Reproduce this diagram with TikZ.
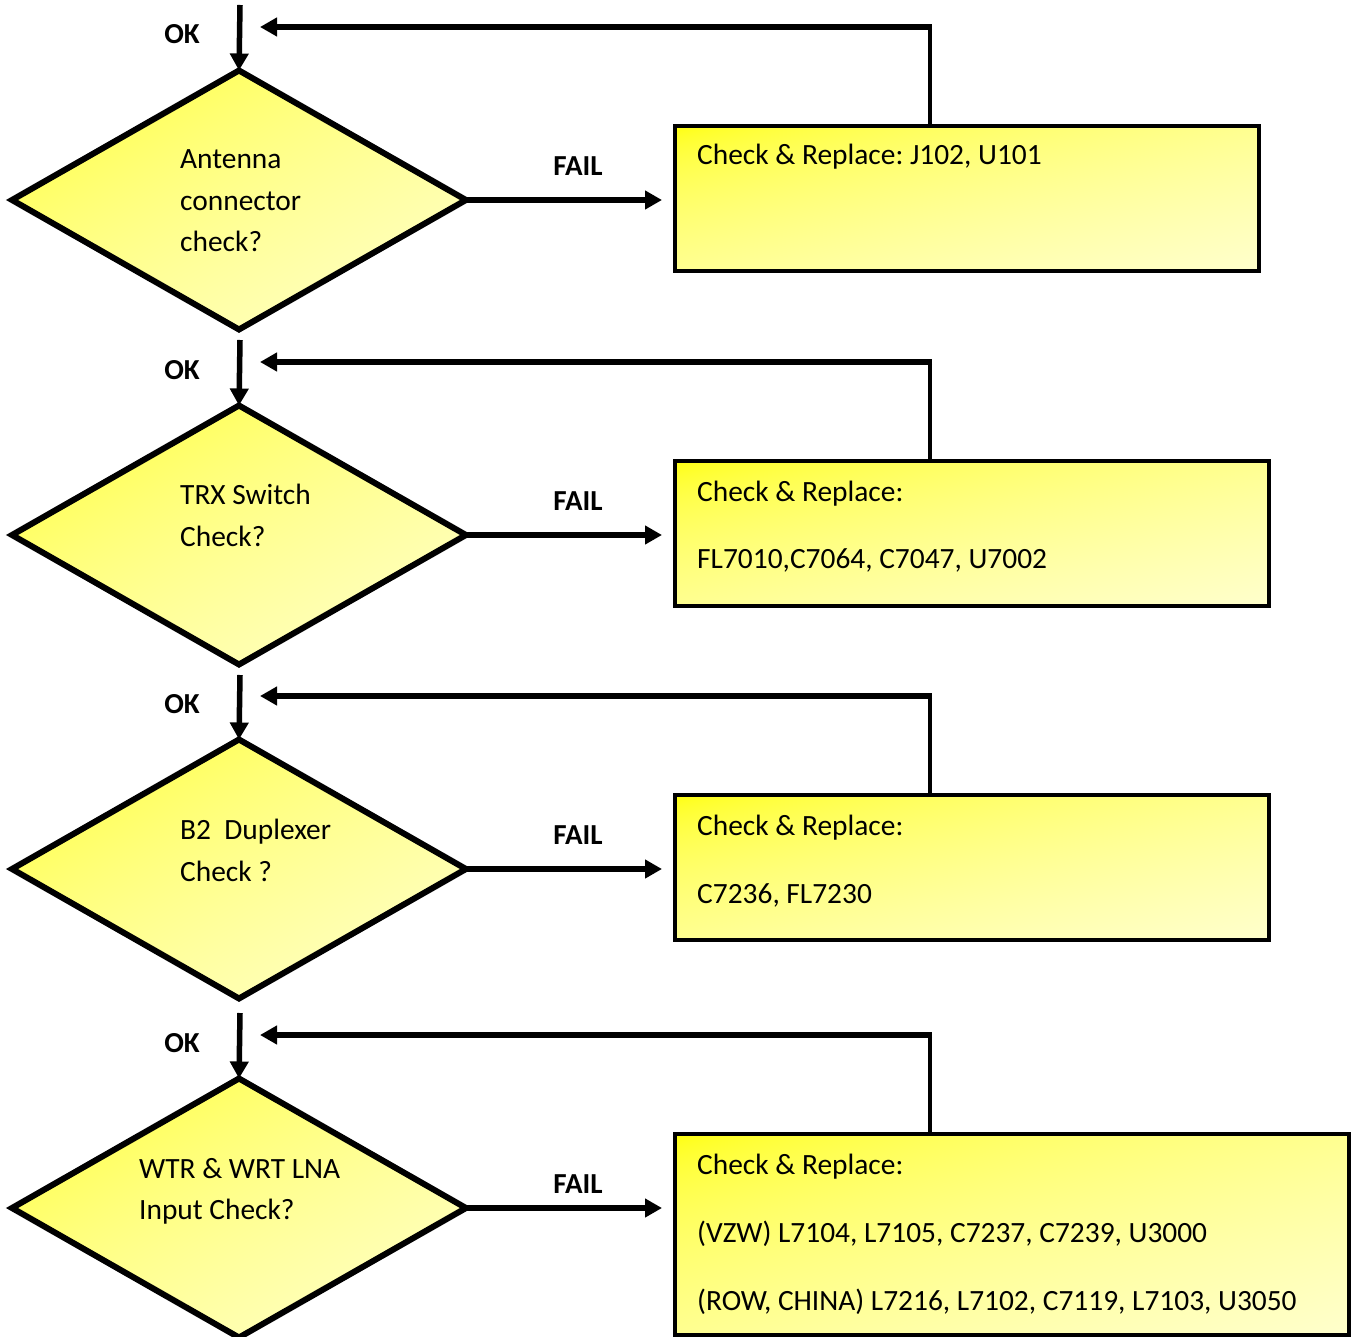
\documentclass[tikz,border=0pt]{standalone}
\usepackage{fontspec}
\setmainfont{Carlito}
\frenchspacing
\usetikzlibrary{shapes.geometric,arrows.meta}
\pgfdeclarefunctionalshading{diagyellow}{\pgfpointorigin}{\pgfpoint{100bp}{100bp}}{}{
  75 exch sub exch 25 sub add 100 div
  dup 0 lt {pop 0} if dup 1 gt {pop 1} if
  sqrt 0.8 mul 1 1 3 -1 roll
}
\tikzset{
  dec/.style={diamond,draw=black,line width=6pt,minimum width=454pt,minimum height=259pt,inner sep=0pt,outer sep=0pt,
    shading=diagyellow},
  box/.style={rectangle,draw=black,line width=4.5pt,inner sep=0pt,outer sep=0pt,anchor=north west,
    shading=diagyellow},
  txt/.style={anchor=base west,inner sep=0pt,font=\fontsize{29.4}{34}\selectfont\frenchspacing},
  lab/.style={anchor=base,inner sep=0pt,font=\fontsize{29}{34}\selectfont\bfseries},
  arr/.style={line width=5.5pt,-{Triangle[length=17pt,width=18pt]}},
  ret/.style={line width=5.5pt,-{Triangle[length=17pt,width=18pt]}},
  retv/.style={line width=4pt},
}
\begin{document}
\begin{tikzpicture}[x=1pt,y=-1pt]
\useasboundingbox (0,0) rectangle (1351,1337);
% diamonds
\node[dec] (d1) at (239,200) {};
\node[dec] (d2) at (239,535) {};
\node[dec] (d3) at (239,869) {};
\node[dec] (d4) at (239,1208) {};
% boxes
\node[box,minimum width=584pt,minimum height=145pt] (b1) at (675,126) {};
\node[box,minimum width=594pt,minimum height=145pt] (b2) at (675,461) {};
\node[box,minimum width=594pt,minimum height=145pt] (b3) at (675,795) {};
\node[box,minimum width=674pt,minimum height=201pt] (b4) at (675,1134) {};
% diamond texts
\node[txt] (t1a) at (180,169) {Antenna};
\node[txt] (t1b) at (180,211) {connector};
\node[txt] (t1c) at (180,252) {check?};
\node[txt] (t2a) at (180,504) {TRX Switch};
\node[txt] (t2b) at (180,546) {Check?};
\node[txt] (t3a) at (180,839) {B2\ \ Duplexer};
\node[txt] (t3b) at (180,881) {Check ?};
\node[txt] (t4a) at (139,1178) {WTR \& WRT LNA};
\node[txt] (t4b) at (139,1219) {Input Check?};
% box texts
\node[txt] (s1a) at (697,165) {Check \& Replace: J102, U101};
\node[txt] (s2a) at (697,501) {Check \& Replace:};
\node[txt] (s2b) at (697,568) {FL7010,C7064, C7047, U7002};
\node[txt] (s3a) at (697,835) {Check \& Replace:};
\node[txt] (s3b) at (697,903) {C7236, FL7230};
\node[txt] (s4a) at (697,1174) {Check \& Replace:};
\node[txt] (s4b) at (697,1242) {(VZW) L7104, L7105, C7237, C7239, U3000};
\node[txt] (s4c) at (697,1310) {(ROW, CHINA) L7216, L7102, C7119, L7103, U3050};
% labels
\node[lab] (ok1) at (182,44) {OK};
\node[lab] (ok2) at (182,379) {OK};
\node[lab] (ok3) at (182,713) {OK};
\node[lab] (ok4) at (182,1052) {OK};
\node[lab] (f1) at (578,176) {FAIL};
\node[lab] (f2) at (578,510) {FAIL};
\node[lab] (f3) at (578,844) {FAIL};
\node[lab] (f4) at (578,1193) {FAIL};
% incoming arrows
\coordinate (i1) at (240,5);
\coordinate (i2) at (240,340);
\coordinate (i3) at (240,675);
\coordinate (i4) at (240,1013);
\draw[arr] (i1) -- (d1.north);
\draw[arr] (i2) -- (d2.north);
\draw[arr] (i3) -- (d3.north);
\draw[arr] (i4) -- (d4.north);
% fail arrows
\draw[arr,shorten >=13pt] (d1.east) -- (d1.east -| b1.west);
\draw[arr,shorten >=13pt] (d2.east) -- (d2.east -| b2.west);
\draw[arr,shorten >=13pt] (d3.east) -- (d3.east -| b3.west);
\draw[arr,shorten >=13pt] (d4.east) -- (d4.east -| b4.west);
% return lines
\coordinate (c1) at (930,27);   \coordinate (e1) at (260,27);
\coordinate (c2) at (930,362);  \coordinate (e2) at (260,362);
\coordinate (c3) at (930,696);  \coordinate (e3) at (260,696);
\coordinate (c4) at (930,1035); \coordinate (e4) at (260,1035);
\draw[retv] (c1 |- b1.north) -- ([yshift=2.7pt]c1);
\draw[retv] (c2 |- b2.north) -- ([yshift=2.7pt]c2);
\draw[retv] (c3 |- b3.north) -- ([yshift=2.7pt]c3);
\draw[retv] (c4 |- b4.north) -- ([yshift=2.7pt]c4);
\draw[ret] ([xshift=2pt]c1) -- (e1);
\draw[ret] ([xshift=2pt]c2) -- (e2);
\draw[ret] ([xshift=2pt]c3) -- (e3);
\draw[ret] ([xshift=2pt]c4) -- (e4);
\end{tikzpicture}
\end{document}
